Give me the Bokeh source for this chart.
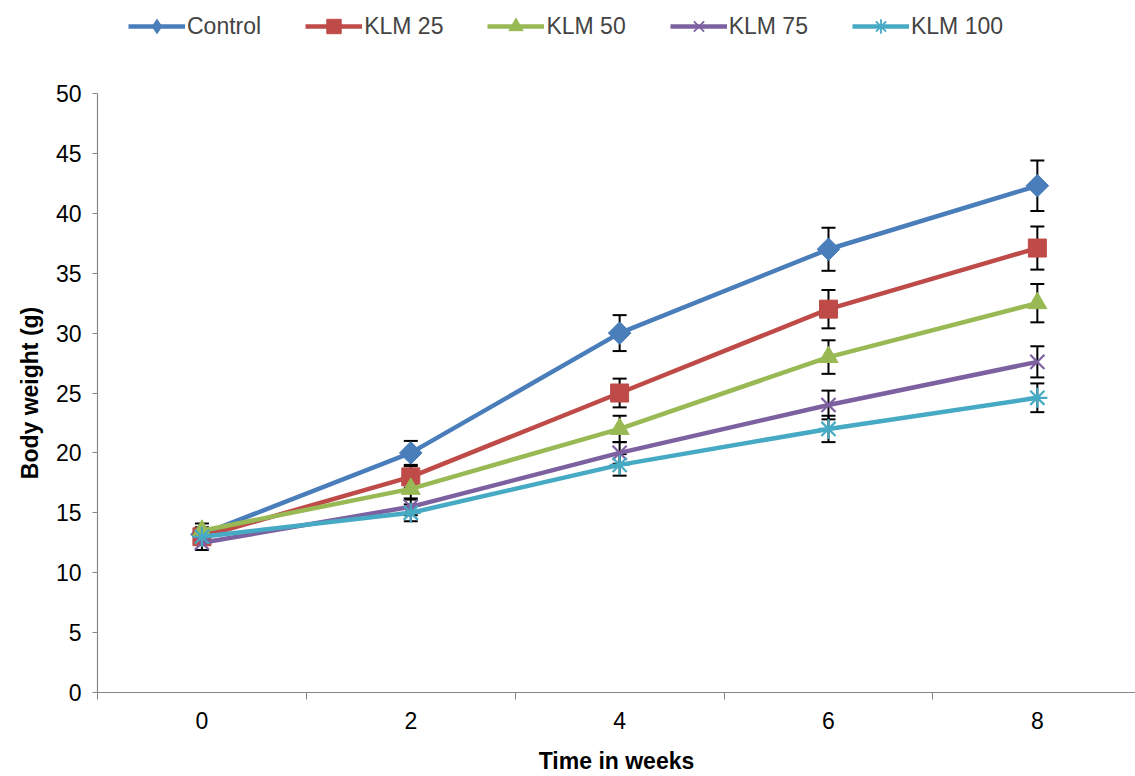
import math
from bokeh.plotting import figure
from bokeh.layouts import column
from bokeh.models import (Range1d, FixedTicker, Legend, LegendItem, ColumnDataSource,
                          Whisker, TeeHead)
from bokeh.embed import file_html
from bokeh.resources import INLINE

weeks = [0, 2, 4, 6, 8]
boundaries = [-1, 1, 3, 5, 7, 9]

control = [13.2, 20.0, 30.0, 37.0, 42.3]
control_err = [0.6, 1.0, 1.5, 1.8, 2.1]
klm25 = [13.0, 18.0, 25.0, 32.0, 37.1]
klm25_err = [0.6, 0.9, 1.2, 1.6, 1.8]
klm50 = [13.5, 17.0, 22.0, 28.0, 32.5]
klm50_err = [0.6, 0.9, 1.1, 1.4, 1.6]
klm75 = [12.5, 15.5, 20.0, 24.0, 27.6]
klm75_err = [0.6, 0.7, 0.9, 1.2, 1.3]
klm100 = [13.0, 15.0, 19.0, 22.0, 24.6]
klm100_err = [0.6, 0.7, 0.9, 1.1, 1.2]

names = ["Control", "KLM 25", "KLM 50", "KLM 75", "KLM 100"]
colors = ["#4A7EBB", "#BE4B48", "#98B954", "#7D60A0", "#46AAC4"]
markers = ["square", "square", "triangle", "x", "asterisk"]
legend_markers = ["diamond", "square", "triangle", "x", "asterisk"]
angles = [math.pi / 4, 0, 0, 0, 0]
sizes = [16, 18, 19, 20, 20]
series = [control, klm25, klm50, klm75, klm100]
errors = [control_err, klm25_err, klm50_err, klm75_err, klm100_err]

FONT = "Liberation Sans"

# ---- main chart ----
p = figure(width=1135, height=716, output_backend="svg", toolbar_location=None,
           x_range=Range1d(-1, 8.94), y_range=Range1d(0, 50),
           min_border_left=97, min_border_right=0, min_border_top=33, min_border_bottom=83)
p.outline_line_color = None
p.xgrid.visible = False
p.ygrid.visible = False

axis_color = "#868686"
p.xaxis.ticker = FixedTicker(ticks=weeks, minor_ticks=boundaries)
p.xaxis.major_tick_out = 0
p.xaxis.major_tick_in = 0
p.xaxis.minor_tick_out = 7
p.xaxis.minor_tick_in = 0
p.xaxis.minor_tick_line_color = axis_color
p.xaxis.major_label_standoff = 12
p.xaxis.axis_label = "Time in weeks"
p.xaxis.axis_label_standoff = 16

p.yaxis.ticker = FixedTicker(ticks=list(range(0, 51, 5)))
p.yaxis.major_tick_out = 5
p.yaxis.major_tick_in = 0
p.yaxis.minor_tick_line_color = None
p.yaxis.major_label_standoff = 11
p.yaxis.axis_label = "Body weight (g)"
p.yaxis.axis_label_standoff = 10

for ax in (p.xaxis, p.yaxis):
    ax.axis_line_color = axis_color
    ax.axis_line_width = 1.2
    ax.major_tick_line_color = axis_color
    ax.major_label_text_font = FONT
    ax.major_label_text_font_size = "23px"
    ax.major_label_text_color = "black"
    ax.axis_label_text_font = FONT
    ax.axis_label_text_font_size = "23px"
    ax.axis_label_text_font_style = "bold"
    ax.axis_label_text_color = "black"

for name, col, mk, ang, sz, ys, es in zip(names, colors, markers, angles, sizes, series, errors):
    src = ColumnDataSource(dict(x=weeks, y=ys,
                                lo=[a - b for a, b in zip(ys, es)],
                                hi=[a + b for a, b in zip(ys, es)]))
    w = Whisker(base="x", lower="lo", upper="hi", source=src, dimension="height",
                line_color="black", line_width=2, level="underlay",
                upper_head=TeeHead(size=14, line_color="black", line_width=2),
                lower_head=TeeHead(size=14, line_color="black", line_width=2))
    p.add_layout(w)
    p.line("x", "y", source=src, line_color=col, line_width=4.5)
    if mk in ("x", "asterisk"):
        p.scatter("x", "y", source=src, marker=mk, size=sz, line_color=col,
                  line_width=2.2, fill_color=col)
    else:
        p.scatter("x", "y", source=src, marker=mk, size=sz, angle=ang,
                  line_color=col, fill_color=col, line_width=1)

# ---- legend strip (its frame is aligned with the chart's frame by the column) ----
lg = figure(width=1135, height=60, output_backend="svg", toolbar_location=None,
            x_range=Range1d(0, 1), y_range=Range1d(0, 1),
            min_border_left=97, min_border_right=0, min_border_top=0, min_border_bottom=0)
lg.outline_line_color = None
lg.axis.visible = False
lg.grid.visible = False

offscreen = dict(x=[-5, -4], y=[-5, -4])  # proxy glyphs, outside the visible range
items = []
for name, col, mk in zip(names, colors, legend_markers):
    lr = lg.line(x=offscreen["x"], y=offscreen["y"], line_color=col, line_width=4.5)
    if mk in ("x", "asterisk"):
        sr = lg.scatter(x=offscreen["x"], y=offscreen["y"], marker=mk, size=14,
                        line_color=col, line_width=1.8, fill_color=col)
    else:
        sr = lg.scatter(x=offscreen["x"], y=offscreen["y"], marker=mk, size=14,
                        line_color=col, fill_color=col)
    items.append(LegendItem(label=name, renderers=[lr, sr]))

legend = Legend(items=items, orientation="horizontal", location=(31, 16),
                glyph_width=57, glyph_height=36, label_standoff=2, spacing=44,
                padding=0, margin=0, border_line_color=None, background_fill_alpha=0,
                label_text_font=FONT, label_text_font_size="23px", label_height=22)
lg.add_layout(legend, "center")

open("out.html", "w").write(file_html(column(lg, p, spacing=0), INLINE))
